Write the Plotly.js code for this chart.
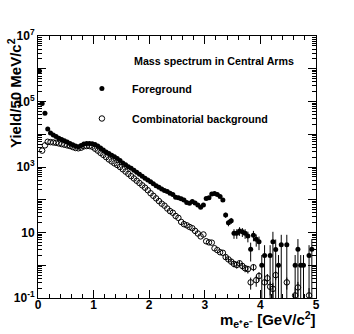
<!DOCTYPE html>
<html>
<head>
<meta charset="utf-8">
<script src="https://cdn.plot.ly/plotly-3.0.1.min.js"></script>
<style>
  html, body { margin:0; padding:0; background:#fff; }
  #chart { width:354px; height:334px; }
</style>
</head>
<body>
<div id="chart"></div>
<script>
// bin centres, 50 MeV bins
const mass = [
  0.025,0.075,0.125,0.175,0.225,0.275,0.325,0.375,0.425,0.475,
  0.525,0.575,0.625,0.675,0.725,0.775,0.825,0.875,0.925,0.975,
  1.025,1.075,1.125,1.175,1.225,1.275,1.325,1.375,1.425,1.475,
  1.525,1.575,1.625,1.675,1.725,1.775,1.825,1.875,1.925,1.975,
  2.025,2.075,2.125,2.175,2.225,2.275,2.325,2.375,2.425,2.475,
  2.525,2.575,2.625,2.675,2.725,2.775,2.825,2.875,2.925,2.975,
  3.025,3.075,3.125,3.175,3.225,3.275,3.325,3.375,3.425,3.475,
  3.525,3.575,3.625,3.675,3.725,3.775,3.825,3.875,3.925,3.975,
  4.025,4.075,4.125,4.175,4.225,4.275,4.325,4.375,4.425,4.475,
  4.525,4.575,4.625,4.675,4.725,4.775,4.825,4.875,4.925,4.975
];

const foreground = [
  851000,87100,43600,14500,11000,9550,8510,7590,6920,6310,
  5750,5250,4790,4370,4170,4570,5010,5250,5250,5130,
  4900,4370,3800,3310,2880,2570,2290,2040,1820,1580,
  1320,1170,1020,912,794,692,603,525,457,398,
  355,309,269,240,214,191,178,158,145,120,
  115,107,98,83,78,89,79,69,59,69,
  110,115,151,155,145,126,98,34,20,23,
  9.5,9.5,11.2,10.5,9.5,7.8,3.1,8.3,6.2,5.2,
  1,2,null,2,5.2,3,1,4.2,null,4.2,
  null,null,1,3.1,1,1,null,2,3.1,null
];

const foregroundErr = [
  0,0,0,0,0,0,0,0,0,0,
  0,0,0,0,0,0,0,0,0,0,
  0,0,0,0,0,0,0,0,0,0,
  0,0,0,0,0,0,0,0,0,0,
  0,0,0,0,0,0,0,0,0,0,
  0,0,0,0,0,0,0,0,0,0,
  0,0,0,0,0,0,0,6,4.5,4.8,
  3.1,3.1,3.3,3.2,3.1,2.8,1.8,2.9,2.5,2.3,
  1.05,2.1,0,2.1,5.3,3.1,1.05,4.3,0,4.3,
  0,0,1.05,3.2,1.05,1.05,0,2.1,3.2,0
];

const background = [
  null,3160,4570,5890,5750,5620,5500,5250,5010,4790,
  4570,4370,4070,3800,3720,3890,4270,4370,4370,4170,
  3630,3160,2690,2340,2000,1700,1480,1290,1150,1000,
  851,724,617,525,447,380,324,275,234,195,
  158,132,110,91,76,66,54,45,40,32,
  28,21,18,16.6,14.8,13.5,11.2,9.3,7.6,8.7,
  5.4,5.0,4.9,3.3,2.9,2.5,2.4,1.78,1.51,1.29,
  1.10,1.02,1.15,0.95,0.81,0.76,0.30,0.87,0.35,0.47,
  null,0.30,0.40,0.22,0.19,0.50,null,null,null,0.30,
  null,null,0.12,0.21,null,null,null,0.12,null,null
];

const backgroundErr = [
  0,0,0,0,0,0,0,0,0,0,
  0,0,0,0,0,0,0,0,0,0,
  0,0,0,0,0,0,0,0,0,0,
  0,0,0,0,0,0,0,0,0,0,
  0,0,0,0,0,0,0,0,0,0,
  0,0,0,0,0,0,0,0,0,0,
  0,0,0,0,0,0,0,0.3,0.28,0.26,
  0.24,0.23,0.24,0.22,0.2,0.2,0.12,0.21,0.13,0.15,
  0,0.12,0.14,0.1,0.1,0.15,0,0,0,0.12,
  0,0,0.08,0.1,0,0,0,0.08,0,0
];

const xTicks = [0,1,2,3,4,5];
const yTicks = [0.1,1,10,100,1e3,1e4,1e5,1e6,1e7];
const yTickText = ["10<sup>-1</sup>","","10","","10<sup>3</sup>","","10<sup>5</sup>","","10<sup>7</sup>"];

// minor ticks 2..9 in every decade
const yMinor = [];
for (let e=-1;e<7;e++) for (let k=2;k<=9;k++) yMinor.push(k*Math.pow(10,e));

const FONT = "Liberation Sans, Arial, Helvetica, sans-serif";

const traces = [
  {
    x: mass, y: foreground, type:"scatter", mode:"markers", name:"Foreground",
    legendgroup:"fg",
    marker:{symbol:"circle", size:5, color:"#000"},
    error_y:{type:"data", array:foregroundErr, visible:true, width:0, thickness:1, color:"#000"}
  },
  {
    x: mass, y: background, type:"scatter", mode:"markers", name:"Combinatorial background",
    legendgroup:"bg",
    marker:{symbol:"circle-open", size:5.5, color:"#000", line:{width:1, color:"#000"}},
    error_y:{type:"data", array:backgroundErr, visible:true, width:0, thickness:1, color:"#000"}
  }
];

const axisBase = {
  showline:true, linecolor:"#000", linewidth:1, mirror:"ticks",
  ticks:"inside", ticklen:8, tickwidth:1, tickcolor:"#000",
  showgrid:false, zeroline:false,
  tickfont:{family:FONT, size:12, color:"#000", weight:"bold"}
};

Plotly.newPlot("chart", traces, {
  width:354, height:334,
  margin:{l:38, r:38, t:36, b:36},
  paper_bgcolor:"#fff", plot_bgcolor:"#fff",
  font:{family:FONT, color:"#000", weight:"bold"},
  showlegend:true,
  legend:{
    x:0.122, y:0.855, xanchor:"left", yanchor:"top",
    bgcolor:"rgba(0,0,0,0)", borderwidth:0,
    itemwidth:50, tracegroupgap:11,
    font:{family:FONT, size:10.7, color:"#000", weight:"bold"}
  },
  xaxis:Object.assign({}, axisBase, {
    range:[0,5], tickmode:"array", tickvals:xTicks, ticklabelstandoff:-4,
    minor:{dtick:0.2, ticks:"inside", ticklen:4, tickcolor:"#000", showgrid:false}
  }),
  yaxis:Object.assign({}, axisBase, {
    type:"log", range:[-1,7], tickmode:"array", tickvals:yTicks, ticktext:yTickText,
    minor:{tickmode:"array", tickvals:yMinor, ticks:"inside", ticklen:4, tickcolor:"#000", showgrid:false}
  }),
  annotations:[
    {
      text:"Mass spectrum in Central Arms", xref:"paper", yref:"paper",
      x:0.338, y:0.906, xanchor:"left", yanchor:"middle", showarrow:false,
      font:{family:FONT, size:10.7, color:"#000", weight:"bold"}
    },
    {
      text:"m<sub>e⁺e⁻</sub> [GeV/c<sup>2</sup>]", xref:"paper", yref:"paper",
      x:1, xshift:2, y:-0.082, xanchor:"right", yanchor:"middle", showarrow:false,
      font:{family:FONT, size:15, color:"#000", weight:"bold"}
    },
    {
      text:"Yield/50 MeV/c<sup>2</sup>", xref:"paper", yref:"paper",
      x:-0.0863, y:1, xanchor:"center", yanchor:"top", textangle:-90, showarrow:false,
      font:{family:FONT, size:15, color:"#000", weight:"bold"}
    }
  ]
}, {displayModeBar:false, staticPlot:true});
</script>
</body>
</html>
